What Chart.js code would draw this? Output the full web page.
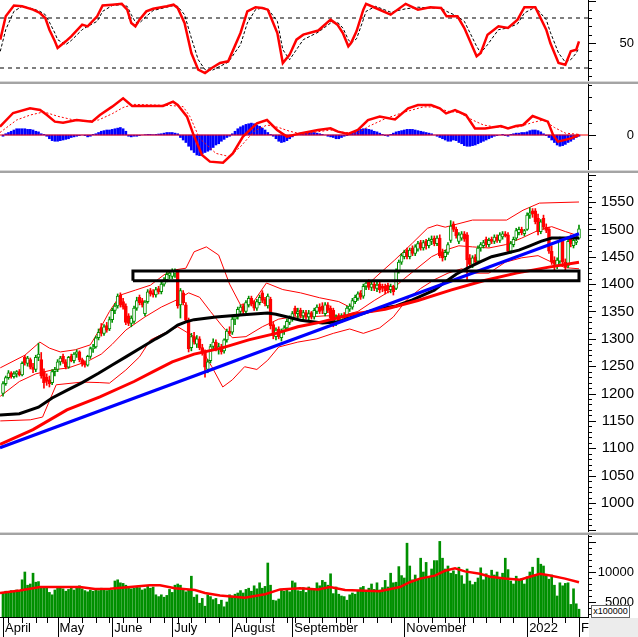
<!DOCTYPE html>
<html lang="vi">
<head>
<meta charset="UTF-8">
<title>VN-Index</title>
<script src="https://cdn.jsdelivr.net/npm/chart.js"></script>
<style>
    body { margin: 0; background: #fff; width: 638px; height: 637px; overflow: hidden; position: relative; }
    canvas { position: absolute; left: 0; }
    .sep { position: absolute; left: 0; width: 638px; height: 3px; background: #a4a4a4; border-top: 1px solid #d8d8d8; box-sizing: border-box; }
    #corner { position: absolute; left: 589px; top: 618px; width: 49px; height: 19px; background: #ececec; }
    #unit { position: absolute; left: 591px; top: 605px; width: 37px; height: 11px; background: #fff; border: 1px solid #666; font: 9px "Liberation Sans", sans-serif; line-height: 11px; text-align: center; color: #000; }
</style>
</head>
<body>
<canvas id="stoch" width="638" height="81" style="top:0"></canvas>
<div class="sep" style="top:81px"></div>
<canvas id="macd" width="638" height="86" style="top:84px"></canvas>
<div class="sep" style="top:170px"></div>
<canvas id="price" width="638" height="359" style="top:173px"></canvas>
<div class="sep" style="top:532px"></div>
<div id="corner"></div>
<canvas id="vol" width="638" height="102" style="top:535px"></canvas>
<div id="unit">x100000</div>
<script>
// trading day index 0 = 1 April 2021, 211 = 7 Feb 2022
const monthStarts = [0, 20, 40, 62, 84, 106, 126, 147, 169, 192, 211];
const monthLabels = ['April', 'May', 'June', 'July', 'August', 'September', '', 'November', '', '2022', 'F'];
const weekStarts = [2, 7, 12, 16, 24, 29, 34, 39, 44, 49, 54, 59, 64, 69, 74, 79, 89, 94, 99, 104, 107, 112, 117, 122, 127, 132, 137, 142, 152, 157, 162, 167, 172, 177, 182, 187, 196, 201, 206];

// [open, high, low, close]
const candles = [
[1200,1222,1195,1218],[1218,1232,1215,1229],[1229,1242,1226,1238],[1238,1240,1228,1231],[1231,1240,1228,1236],
[1236,1242,1230,1240],[1240,1244,1232,1234],[1234,1258,1232,1255],[1266,1270,1252,1256],[1255,1268,1250,1265],
[1262,1265,1245,1248],[1248,1255,1238,1244],[1244,1270,1240,1266],[1266,1292,1260,1272],[1262,1275,1228,1232],
[1240,1245,1210,1220],[1230,1236,1215,1222],[1225,1232,1212,1218],[1220,1244,1216,1240],[1240,1248,1232,1244],
[1244,1262,1240,1258],[1258,1268,1252,1265],[1268,1272,1255,1258],[1258,1262,1245,1248],[1248,1268,1246,1266],
[1268,1272,1258,1260],[1260,1275,1256,1272],[1272,1280,1266,1276],[1276,1278,1258,1262],[1262,1265,1250,1254],
[1256,1260,1248,1252],[1252,1270,1250,1268],[1268,1285,1264,1282],[1282,1290,1275,1285],[1285,1305,1283,1302],
[1302,1318,1298,1312],[1320,1328,1305,1310],[1310,1326,1306,1322],[1324,1330,1312,1316],[1318,1340,1315,1335],
[1335,1356,1330,1352],[1352,1365,1346,1360],[1360,1382,1356,1378],[1380,1384,1358,1362],[1368,1374,1354,1358],
[1360,1364,1326,1330],[1342,1346,1324,1328],[1328,1342,1322,1338],[1332,1360,1328,1356],[1356,1376,1352,1370],
[1376,1380,1362,1366],[1370,1374,1358,1362],[1346,1370,1342,1367],[1368,1390,1365,1386],[1388,1392,1378,1382],
[1384,1390,1376,1380],[1380,1394,1376,1390],[1392,1396,1382,1386],[1386,1404,1382,1400],[1400,1412,1396,1408],
[1408,1422,1404,1418],[1416,1424,1410,1420],[1414,1428,1410,1424],[1420,1428,1412,1422],[1422,1426,1356,1360],
[1362,1392,1338,1388],[1384,1388,1362,1366],[1362,1366,1330,1334],[1334,1338,1276,1282],[1284,1310,1278,1304],
[1304,1312,1290,1294],[1290,1306,1284,1300],[1300,1304,1280,1284],[1284,1290,1270,1276],[1276,1280,1230,1248],
[1244,1262,1238,1258],[1260,1290,1256,1286],[1286,1300,1280,1294],[1294,1298,1278,1282],[1282,1292,1272,1286],
[1286,1290,1272,1276],[1278,1300,1274,1298],[1298,1318,1294,1314],[1314,1322,1306,1310],[1312,1340,1308,1336],
[1336,1344,1326,1340],[1340,1358,1336,1354],[1350,1362,1344,1358],[1360,1364,1346,1350],[1350,1370,1348,1366],
[1362,1378,1358,1374],[1374,1378,1360,1364],[1366,1370,1352,1356],[1356,1372,1352,1368],[1366,1380,1362,1376],
[1384,1388,1366,1370],[1372,1376,1360,1364],[1360,1382,1356,1378],[1372,1376,1318,1324],[1326,1330,1300,1306],
[1304,1320,1298,1316],[1318,1322,1300,1304],[1302,1318,1296,1314],[1314,1324,1308,1320],[1320,1336,1316,1332],
[1330,1342,1326,1338],[1338,1350,1332,1346],[1356,1360,1342,1346],[1346,1356,1338,1350],[1352,1356,1338,1342],
[1342,1352,1336,1348],[1348,1352,1336,1340],[1340,1352,1334,1346],[1348,1350,1336,1340],[1340,1356,1336,1352],
[1350,1362,1346,1358],[1358,1364,1346,1350],[1360,1366,1346,1352],[1346,1366,1342,1362],[1362,1366,1348,1352],
[1356,1360,1334,1338],[1352,1356,1322,1328],[1328,1344,1324,1340],[1342,1346,1330,1334],[1334,1346,1330,1342],
[1344,1348,1334,1338],[1340,1360,1336,1356],[1354,1364,1350,1360],[1358,1374,1354,1370],[1368,1380,1364,1376],
[1374,1386,1370,1382],[1384,1388,1372,1376],[1378,1400,1374,1396],[1396,1406,1390,1402],[1404,1408,1390,1394],
[1394,1406,1388,1400],[1400,1404,1388,1392],[1392,1404,1386,1398],[1400,1404,1384,1390],[1396,1400,1386,1392],
[1396,1400,1382,1388],[1398,1402,1384,1390],[1390,1400,1384,1396],[1396,1398,1380,1386],[1392,1428,1390,1424],
[1424,1444,1420,1440],[1440,1456,1436,1452],[1450,1462,1446,1458],[1462,1466,1446,1450],[1450,1466,1446,1462],
[1466,1470,1452,1456],[1456,1472,1452,1468],[1464,1478,1460,1474],[1476,1480,1462,1466],[1466,1480,1462,1476],
[1478,1482,1464,1470],[1470,1484,1466,1480],[1478,1488,1472,1482],[1484,1488,1470,1474],[1474,1488,1470,1484],
[1484,1490,1448,1452],[1458,1464,1442,1448],[1450,1462,1444,1458],[1458,1476,1454,1472],[1480,1516,1476,1506],
[1510,1514,1496,1500],[1500,1504,1484,1488],[1478,1494,1474,1490],[1484,1496,1480,1492],[1492,1496,1478,1482],
[1490,1494,1407,1444],[1448,1454,1430,1436],[1436,1452,1430,1448],[1450,1454,1436,1440],[1442,1470,1440,1466],
[1466,1476,1460,1472],[1470,1480,1466,1476],[1482,1486,1468,1472],[1472,1484,1468,1480],[1482,1486,1474,1478],
[1478,1490,1474,1486],[1486,1490,1476,1480],[1480,1494,1476,1490],[1486,1496,1482,1492],[1492,1496,1486,1488],
[1490,1494,1456,1460],[1460,1478,1456,1474],[1472,1486,1468,1482],[1484,1502,1480,1498],[1494,1504,1490,1500],
[1500,1504,1490,1494],[1492,1500,1488,1498],[1500,1530,1498,1526],[1526,1540,1520,1530],[1534,1538,1522,1528],
[1534,1538,1510,1514],[1520,1528,1490,1496],[1496,1518,1492,1514],[1520,1526,1500,1504],[1504,1510,1494,1498],
[1500,1504,1456,1460],[1460,1470,1436,1440],[1444,1450,1426,1436],[1434,1448,1428,1444],[1442,1486,1438,1480],
[1478,1482,1434,1440],[1440,1446,1424,1432],[1434,1486,1430,1478],[1482,1490,1468,1474],[1470,1484,1466,1480],
[1476,1488,1472,1479],[1484,1508,1482,1501]
];

// volume, x100000 shares
const volumes = [
6600,6800,6500,6900,6700,7000,6800,8700,10000,7800,8000,9800,8300,8400,7600,7400,7500,6600,6200,7000,
7300,7400,7200,6800,7100,7300,7000,7400,7700,7200,6900,6700,7000,6800,7100,6900,7300,7000,6900,7200,
7000,8500,8700,8200,8100,7800,7600,7200,7300,7600,7400,7000,7200,7700,7300,7500,6200,5900,6200,5800,
6100,7100,6600,7800,8000,7800,7200,6700,7100,9300,5800,6200,4800,5600,4300,6200,5900,5400,5600,4600,
5300,4200,5000,6200,6000,6300,6500,6900,6500,7100,7300,6800,7700,7200,8200,7300,7600,11500,7800,5300,
5200,5500,7000,6800,7200,6700,8500,8200,6900,6800,7400,6600,7500,7000,7200,8200,7700,8600,8300,7800,
9700,6400,7500,6300,6000,5900,5300,6200,6500,6300,6800,7400,7600,6900,7300,8000,7100,8200,7000,7400,
8600,7500,9800,8200,8300,10900,9400,9000,14800,11000,8700,9500,8800,12300,10000,11600,9100,10500,11900,11900,
15100,12300,10500,11000,9800,10200,9600,10800,9400,8000,10500,8500,7900,8300,9000,10700,8700,9700,9300,10300,
9500,10000,9000,9800,12300,10400,8500,8000,9300,8600,8900,8000,9200,10000,10800,9500,12300,11300,11000,9600,
8800,9500,7800,6000,8200,7700,8100,8200,4600,7200,4700,3800
];

// MACD histogram, one value per day
const macdHist = [
-1,1,2,3,4,5,5,5,5,4.5,4.5,4,3,2.5, 1,0.5,
-1,-3,-4.5,-5,-5,-4.5,-4,-3.5,-3,-2,-1.5, -1,-0.5,0,-0.5, -1.5,-1,0.5,
1,2,3,3.5,4,4,4.5,5,5.5,6,5,3, -1,-1.5,-1,-1, -0.5,0,0.3,0.5,0.5,
0.3,0.5,0.8,1,1.5,2, 2,2,1.5,1,
-2,-4,-6,-9,-12,-14,-16,-16.5,-15,-14,-13,-12,-10,-8,-7,-5,-3.5,-2,-1,
1,3,5,6.5,7.5,8.5,9,9.5,9,8,7,5.5,4, 2,0.5,-1,
-3,-5,-6,-5.5,-4.5,-3,-1.5, 0.5,1,1.5,2,2,2,2,2,1.5, 1,0.5,0,-1,-1.5,
-2,-3,-3,-2,-1, -0.5,0.5,1.5,3,4, 4.5,5,5,4.5,4,3,2.5, 1.5,0.5,-0.5,-1, 0.5,1.5,2.5,
3,3.5,4,4.5,4.5,4.5,4,3.5,3,2.5,2,1.5,1, 0,-1,-2,
-3,-4,-5,-5,-4,-4.5,-6,-7,-8.5,-9,-9,-8.5,-8,-7,-6,-5,-4,-3,
-2,-1,-0.5,0,0.5,-0.5,-1, 0.5,1,1.5,1.5,2,2,2.5,3.5,4,4,3.5,2.5, 1,-0.5,
-2,-4,-6,-8,-9,-8.5,-7.5,-6,-5,-3.5,-2, -1
];

const macdX = [-1.1,3.7,9.9,13.6,16.1,19,22,27,32.6,35.5,40,44,47.3,52.7,58.6,62.3,64,67.4,69.6,72.9,75.8,80.6,84.2,87.9,93,96.7,100.4,104,108.8,115.4,120,122.7,126.4,130,133.7,138,143.6,148.4,152,156.8,160,162.3,165.6,169.6,172.9,176.6,182.4,185,187.9,190.5,194,199.6,201.5,203.3,208,211];
const macdLine = [6.7,17.6,21.3,20,16,10.7,9.9,12,10.7,16,22.7,29.3,23.2,23.2,23.2,26.7,24,14.7,1.3,-16,-21.3,-22.1,-14.7,-1.3,9.3,12,4,-1.3,1.3,4,5.3,2.7,0.8,4,12,14.7,12.5,21.3,24,24,21.3,17.3,20,16,5.3,5.3,7.2,5.3,7.2,8,15.2,10.7,0,-5.3,-2.7,0];
const signalX = [-1.1,5,10,15,20,25,30,35,40,44,48,55,62,66,68.5,72,78,83,87,92,96.7,101,105,110,115,120,125,130,134,140,146.5,154,158,163,167,172,176,180,185,189,194,198,202,206,211];
const signalLine = [2,12,16,18.5,15,12.5,11,12,17,22,24.5,24,23.5,22.7,14.7,-2.7,-14.7,-17.3,-9.3,3,8,6,3,0.5,2.5,4,2,1.5,7,13,18,22.5,22.4,19,18,12,8,6.5,6,6.5,10,12,6,1.5,0.5];

const stochX = [-1,1,4,7,11,13.5,15.5,17,19,20,23,25,29,31,34.5,36.5,40,43.5,45.5,47,48.5,50,52.5,55,60,62.5,64,66.5,69,71.5,74,76.5,79.5,82.5,87,89.5,92.5,95,97,100.5,102.5,105,107.5,110,115.5,120,122.5,124.5,126.5,127.5,129.5,132,133,136.5,142,147.5,152,156.5,160.5,162.5,166.5,169,173.5,175,177.5,181.5,185,188.5,191,195,199,200.5,203.5,206,208,210,211];
const stochK = [54,82,95,94,90,86,80,66,52,44,52,58,72,70,82,95,96,97,90,74,70,78,88,91,94,96,92,74,38,18,14,20,26,28,62,88,93,92,90,62,26,36,54,60,65,78,72,62,46,50,64,90,97,92,84,97,90,93,92,82,82,68,34,38,60,70,68,78,93,93,66,50,26,24,40,42,52];
const stochD = [40,66,88,94,91,88,84,75,62,54,48,53,66,70,76,88,95,96,94,84,75,74,82,89,93,95,94,84,56,30,18,17,22,27,48,74,90,92,91,76,42,30,42,54,63,74,75,68,54,50,55,78,88,94,87,91,93,92,92,88,82,76,46,38,48,66,68,73,86,93,78,63,38,27,30,38,44];
const stochLevels = [80, 20];

const bbUpX = [-1,8,13.5,17,21,26.5,32,35.5,39,43,48.5,54,59,63,67,70,74.5,79,83,87,91,96.5,102.5,109,116,123,127,131.5,137,143.5,150,155.5,159,162,172,184.5,190.5,196.5,211];
const bbUp = [1247,1270,1294,1283,1276,1280,1289,1318,1350,1380,1389,1398,1417,1426,1429,1459,1468,1453,1400,1362,1362,1402,1390,1384,1375,1368,1358,1389,1415,1444,1475,1502,1508,1504,1517,1517,1535,1548,1550];
const bbMidX = [-1,6,12,18,24,31,36,40,45,52,58,64,68,72,76,80,84,89,95,101,106,112,118,124,130,136,142,147,152,157,162,167,172,178,184,190,196,201,206,211];
const bbMid = [1195,1222,1236,1243,1247,1259,1272,1290,1316,1340,1358,1372,1384,1376,1350,1325,1302,1304,1322,1336,1340,1340,1342,1342,1350,1370,1388,1410,1430,1450,1462,1470,1468,1466,1472,1484,1498,1505,1496,1488];
const bbLowX = [-1,10,14.5,19.5,29,35.5,39,45,50,54,64,70,76.5,80.5,84,88.5,93,97,101,108,115,121,127,132,138,143,148,153,158,163,168,173,178,184,190,196,201,206,211];
const bbLow = [1150,1152,1157,1216,1221,1220,1219,1243,1267,1298,1322,1304,1249,1212,1225,1249,1244,1261,1285,1294,1300,1310,1318,1310,1320,1340,1372,1392,1408,1420,1428,1420,1420,1440,1448,1452,1440,1430,1428];

const maBlackX = [-1.1,6,13,18,23,29,35,40,45,51,56,60,64,67,70,78,88,97,100,105,109,117,123,128,134,139,144,150,158,162,166,170,175,179,184,189,193,197,201,211];
const maBlack = [1161,1163,1175,1192,1205,1220,1237,1252,1267,1285,1300,1311,1325,1331,1335,1340,1344,1347,1345,1339,1334,1329,1331,1340,1350,1356,1360,1371,1389,1404,1418,1429,1441,1450,1456,1462,1470,1478,1484,1484];
const maRedX = [-1.1,11,23.4,35.5,48,55,62,70,80,90,100,108,116,128,140,152,164,176,188,200,211];
const maRed = [1107,1134,1170,1194,1222,1240,1258,1272,1283,1298,1310,1322,1330,1345,1354,1370,1389,1406,1420,1431,1440];
const trendX = [-1.1, 211];
const trendY = [1101, 1492];
const boxX = [47.6, 211];
const boxY = [1406, 1424];

const volMaX = [-1.1,6.2,13.6,20.9,28.2,33.7,39.2,46.5,53.8,57.5,63,70.3,74,79.5,88.6,96,101.5,108.8,115.4,119.8,125.3,138,145.4,149,152.7,158.2,161.9,165.6,169.2,174.7,178.4,183.9,189.4,193,196.7,200.4,205.9,211];
const volMa = [6500,6900,7500,7500,7500,7170,7200,7500,7800,7800,7300,7000,6500,6100,5700,6300,7100,7300,7100,7500,7000,6800,7500,8300,8900,9400,10200,10600,10100,9700,9200,8900,8700,9200,9700,9400,8900,8300];

const priceLabels = [1000,1050,1100,1150,1200,1250,1300,1350,1400,1450,1500,1550];
const volLabels = [5000, 10000];

const X_MIN = -1.1, X_MAX = 214.3;
const GREEN = '#009000', RED = '#ff0000';
Chart.defaults.font.family = '"Liberation Sans", Arial, sans-serif';

const pts = (xs, ys) => xs.map((x, i) => ({x, y: ys[i]}));
const line = (data, color, width, order, dash) => ({type: 'line', data, borderColor: color, borderWidth: width, borderDash: dash || [], pointRadius: 0, tension: 0, fill: false, order});

function tickMarks(majorStep, withX) {
    return {
        id: 'tickMarks',
        afterDraw(chart) {
            const {ctx, chartArea: a, scales: {x, y}} = chart;
            ctx.save();
            ctx.strokeStyle = '#000';
            ctx.lineWidth = 1;
            ctx.beginPath();
            y.ticks.forEach(t => {
                const py = Math.round(y.getPixelForValue(t.value)) + 0.5;
                ctx.moveTo(a.right, py);
                ctx.lineTo(a.right + (t.value % majorStep === 0 ? 8 : 4), py);
            });
            if (withX) {
                weekStarts.forEach(v => {
                    const px = Math.round(x.getPixelForValue(v)) + 0.5;
                    ctx.moveTo(px, a.bottom); ctx.lineTo(px, a.bottom + 6);
                });
                monthStarts.forEach((v, i) => {
                    const px = Math.round(x.getPixelForValue(v)) + 0.5;
                    ctx.moveTo(px, a.bottom); ctx.lineTo(px, monthLabels[i] ? chart.height : a.bottom + 8);
                });
            }
            ctx.stroke();
            ctx.restore();
        }
    };
}

function yScale(min, max, step, labels, size) {
    return {
        position: 'right', min, max,
        grid: {display: false, drawTicks: false},
        border: {display: true, color: '#000'},
        ticks: {autoSkip: false, color: '#000', font: {size}, crossAlign: 'far', padding: 0,
            callback: v => labels.includes(v) ? String(v) : ''},
        afterBuildTicks: s => {
            const t = [];
            for (let v = Math.ceil(min / step) * step; v <= max; v += step) t.push({value: v});
            s.ticks = t;
        },
        afterFit: s => { s.width = 46; s.paddingTop = 0; s.paddingBottom = 0; }
    };
}

function xScale(show) {
    const s = {type: 'linear', min: X_MIN, max: X_MAX, offset: false, display: show,
        grid: {display: false, drawTicks: false}, border: {display: show, color: '#000'}};
    if (show) {
        s.ticks = {autoSkip: false, maxRotation: 0, align: 'start', padding: 4, labelOffset: 2,
            color: '#000', font: {size: 13}, callback: (v, i) => monthLabels[i]};
        s.afterBuildTicks = a => { a.ticks = monthStarts.map(v => ({value: v})); };
        s.afterFit = a => { a.height = 20; a.paddingLeft = 0; a.paddingRight = 0; };
    }
    return s;
}

function make(id, datasets, y, majorStep, showX) {
    return new Chart(document.getElementById(id), {
        type: 'bar',
        data: {datasets},
        options: {
            responsive: false, animation: false, events: [],
            layout: {padding: {right: 4, left: 0, top: 0, bottom: 0}},
            plugins: {legend: {display: false}, tooltip: {enabled: false}},
            scales: {x: xScale(showX), y}
        },
        plugins: [tickMarks(majorStep, showX)]
    });
}

// stochastic
make('stoch', [
    line(pts(stochX, stochK), RED, 2.5, 0),
    line(pts(stochX, stochD), '#000', 1, 1, [3, 2]),
    line(pts([X_MIN, X_MAX], [stochLevels[0], stochLevels[0]]), '#000', 1, 2, [4, 4]),
    line(pts([X_MIN, X_MAX], [stochLevels[1], stochLevels[1]]), '#000', 1, 2, [4, 4])
], yScale(4.4, 101.6, 10, [50], 13), 50, false);

// MACD
make('macd', [
    line(pts(macdX, macdLine), RED, 2.5, 0),
    line(pts(signalX, signalLine), RED, 1, 1, [2, 2]),
    line(pts([X_MIN, X_MAX], [0, 0]), RED, 1, 2),
    {data: macdHist.map((h, i) => ({x: i, y: h})), backgroundColor: '#0000ff', barThickness: 2, grouped: false, order: 3}
], yScale(-28, 40.8, 10, [0], 13), 1000, false);

// price
const up = candles.map(c => c[3] >= c[0]);
make('price', [
    line([{x: boxX[0], y: boxY[0]}, {x: boxX[0], y: boxY[1]}, {x: boxX[1], y: boxY[1]}, {x: boxX[1], y: boxY[0]}, {x: boxX[0], y: boxY[0]}], '#000', 3, 0),
    line(pts(trendX, trendY), '#0000ff', 3, 1),
    line(pts(maRedX, maRed), RED, 3, 2),
    line(pts(maBlackX, maBlack), '#000', 3, 3),
    {data: candles.map((c, i) => ({x: i, y: [c[0], c[3]]})), barThickness: 3, grouped: false, borderSkipped: false,
        backgroundColor: up.map(u => u ? '#fff' : RED), borderColor: up.map(u => u ? GREEN : RED), borderWidth: 1, order: 4},
    {data: candles.map((c, i) => ({x: i, y: [c[2], c[1]]})), barThickness: 1, grouped: false,
        backgroundColor: up.map(u => u ? GREEN : RED), order: 5},
    line(pts(bbUpX, bbUp), RED, 1, 6),
    line(pts(bbMidX, bbMid), RED, 1, 6),
    line(pts(bbLowX, bbLow), RED, 1, 6)
], yScale(947, 1603, 10, priceLabels, 15), 50, false);

// volume
make('vol', [
    line(pts(volMaX, volMa), RED, 2.5, 0),
    {data: volumes.map((v, i) => ({x: i, y: v})), backgroundColor: GREEN, barThickness: 2, grouped: false, order: 1}
], yScale(2500, 16167, 1000, volLabels, 13), 5000, true);
</script>
</body>
</html>
